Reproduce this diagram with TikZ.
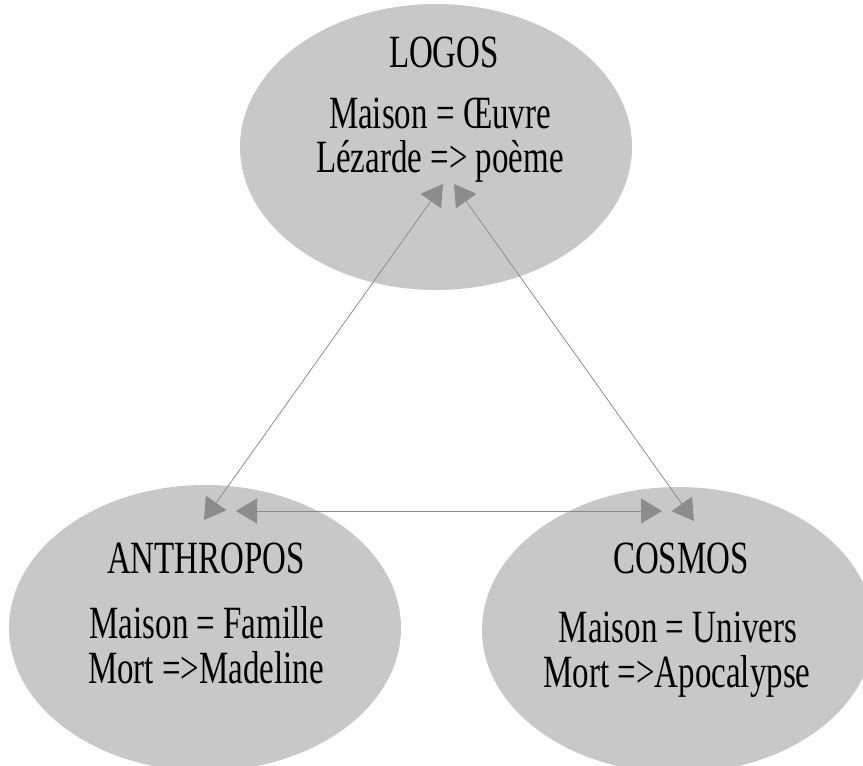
\documentclass[tikz,border=0pt]{standalone}
\usepackage{fontspec}
\setmainfont[FakeStretch=0.714]{Liberation Serif}
\usetikzlibrary{shapes.geometric,arrows.meta}

\definecolor{bubblegray}{RGB}{200,200,200}
\definecolor{linkgray}{RGB}{140,140,140}

\tikzset{
	bubble/.style={ellipse, fill=bubblegray, draw=none, minimum width=392pt, minimum height=286pt, inner sep=0pt},
	txt/.style={anchor=base, inner sep=0pt, font=\fontsize{46.2}{50}\selectfont},
	link/.style={draw=linkgray, line width=0.8pt, {Triangle[length=21pt,width=25pt]}-{Triangle[length=21pt,width=25pt]}, color=linkgray}
}

\begin{document}
\begin{tikzpicture}[x=1pt, y=-1pt]
		\useasboundingbox (0,0) rectangle (863,766);
		% Bubbles:
		\node[bubble] (logos) at (436,147){};
		\node[bubble] (anthropos) at (205,628){};
		\node[bubble] (cosmos) at (678,630){};
		% Texts:
		\node[txt] (logostitle) at (444,67){LOGOS};
		\node[txt] (logosmaison) at (440,128){Maison = Œuvre};
		\node[txt] (logosmort) at (440,172){Lézarde => poème};
		\node[txt] (anthtitle) at (206,573){ANTHROPOS};
		\node[txt] (anthmaison) at (207,638){Maison = Famille};
		\node[txt] (anthmort) at (206,683){Mort =>Madeline};
		\node[txt] (cosmostitle) at (681,573){COSMOS};
		\node[txt] (cosmosmaison) at (678,642){Maison = Univers};
		\node[txt] (cosmosmort) at (677,687){Mort =>Apocalypse};
		% Link ends:
		\coordinate (logosleft) at (443,184);
		\coordinate (logosright) at (454,184);
		\coordinate (anthtop) at (204,520);
		\coordinate (anthright) at (236,511);
		\coordinate (cosmostop) at (694,521);
		\coordinate (cosmosleft) at (662,511);
		% Links:
		\draw[link] (anthtop) -- (logosleft);
		\draw[link] (logosright) -- (cosmostop);
		\draw[link] (anthright) -- (cosmosleft);
	\end{tikzpicture}
\end{document}
